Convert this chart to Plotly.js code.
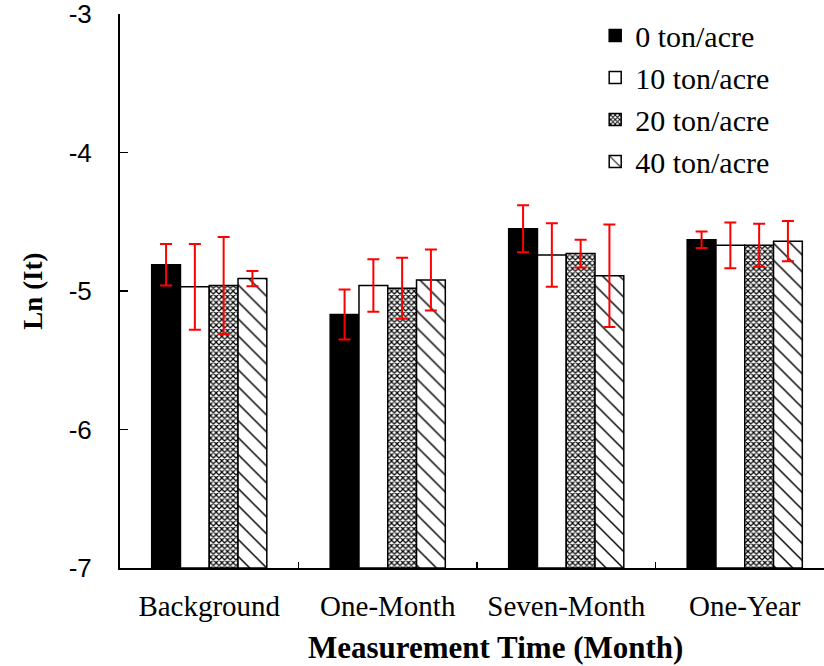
<!DOCTYPE html>
<html>
<head>
<meta charset="utf-8">
<script src="https://cdn.plot.ly/plotly-3.0.1.min.js"></script>
<style>
  html, body { margin: 0; padding: 0; background: #fff; }
  #chart { width: 824px; height: 666px; }
</style>
</head>
<body>
<div id="chart"></div>
<script>
// Measurement times (categories)
const categories = ['Background', 'One-Month', 'Seven-Month', 'One-Year'];

// Series names
const seriesNames = ['0 ton/acre', '10 ton/acre', '20 ton/acre', '40 ton/acre'];

// Mean Ln(It) per application rate
const rate0  = [-4.81, -5.17, -4.55, -4.63];
const rate10 = [-4.97, -4.96, -4.74, -4.67];
const rate20 = [-4.96, -4.98, -4.73, -4.67];
const rate40 = [-4.91, -4.92, -4.89, -4.64];

// Error bar half-lengths
const err0  = [0.15, 0.18, 0.17, 0.06];
const err10 = [0.31, 0.19, 0.23, 0.165];
const err20 = [0.35, 0.22, 0.10, 0.155];
const err40 = [0.055, 0.22, 0.37, 0.145];

// Value axis ticks (plain hyphen minus)
const yTickVals = [-7, -6, -5, -4, -3];
const yTickText = ['-7', '-6', '-5', '-4', '-3'];

// Bars rise from the bottom of the value axis
const AXIS_MIN = -7;
const AXIS_MAX = -3;

const values = [rate0, rate10, rate20, rate40];
const errors = [err0, err10, err20, err40];

const styles = [
  { color: '#000000', pattern: null },
  { color: '#ffffff', pattern: null },
  { color: '#ffffff', pattern: { shape: 'x', fgcolor: '#000', bgcolor: '#fff', size: 4, solidity: 0.5 } },
  { color: '#ffffff', pattern: { shape: '\\', fgcolor: '#000', bgcolor: '#fff', size: 12, solidity: 0.12 } }
];

const traces = values.map((vals, i) => {
  const marker = { color: styles[i].color, line: { color: '#000', width: 1.5 } };
  if (styles[i].pattern) marker.pattern = styles[i].pattern;
  return {
    type: 'bar',
    name: seriesNames[i],
    legendgroup: 'g' + i,
    x: categories,
    base: AXIS_MIN,
    y: vals.map(v => v - AXIS_MIN),
    customdata: vals,
    hovertemplate: '%{x}: %{customdata}<extra>' + seriesNames[i] + '</extra>',
    marker: marker,
    error_y: {
      type: 'data', array: errors[i], visible: true,
      color: '#ff0000', thickness: 2, width: 6
    }
  };
});

const serif = 'Liberation Serif, Times New Roman, serif';

const layout = {
  width: 824,
  height: 666,
  margin: { l: 120, r: 0, t: 14, b: 98 },
  paper_bgcolor: '#fff',
  plot_bgcolor: '#fff',
  barmode: 'group',
  bargap: 0.355,
  bargroupgap: 0,
  showlegend: true,
  legend: {
    x: 0.675, y: 1.008, xanchor: 'left', yanchor: 'top',
    font: { family: serif, size: 30, color: '#000' },
    bgcolor: 'rgba(0,0,0,0)',
    traceorder: 'normal',
    tracegroupgap: 1
  },
  xaxis: {
    type: 'category',
    range: [-0.5, 3.444],
    tickson: 'boundaries',
    ticks: 'inside',
    ticklen: 6,
    tickwidth: 1.5,
    tickcolor: '#000',
    showline: true,
    linecolor: '#000',
    linewidth: 2,
    showgrid: false,
    zeroline: false,
    ticklabelstandoff: 11,
    tickfont: { family: serif, size: 29, color: '#000' },
    fixedrange: true
  },
  yaxis: {
    range: [AXIS_MIN, AXIS_MAX],
    tickmode: 'array',
    tickvals: yTickVals,
    ticktext: yTickText,
    ticks: 'inside',
    ticklen: 8,
    tickwidth: 1.5,
    tickcolor: '#000',
    showline: true,
    linecolor: '#000',
    linewidth: 2,
    showgrid: false,
    zeroline: false,
    ticklabelstandoff: 21,
    ticklabeloverflow: 'allow',
    tickfont: { family: 'Liberation Sans, Arial, sans-serif', size: 26, color: '#000' },
    title: {
      text: '<b>Ln (It)</b>',
      font: { family: serif, size: 27, color: '#000' },
      standoff: 18
    },
    automargin: false,
    fixedrange: true
  },
  annotations: [{
    text: '<b>Measurement Time (Month)</b>',
    xref: 'paper', yref: 'paper',
    x: 0.533, y: -0.144,
    xanchor: 'center', yanchor: 'middle',
    showarrow: false,
    font: { family: serif, size: 31, color: '#000' }
  }]
};

Plotly.newPlot('chart', traces, layout, { displayModeBar: false, staticPlot: true });
</script>
</body>
</html>
